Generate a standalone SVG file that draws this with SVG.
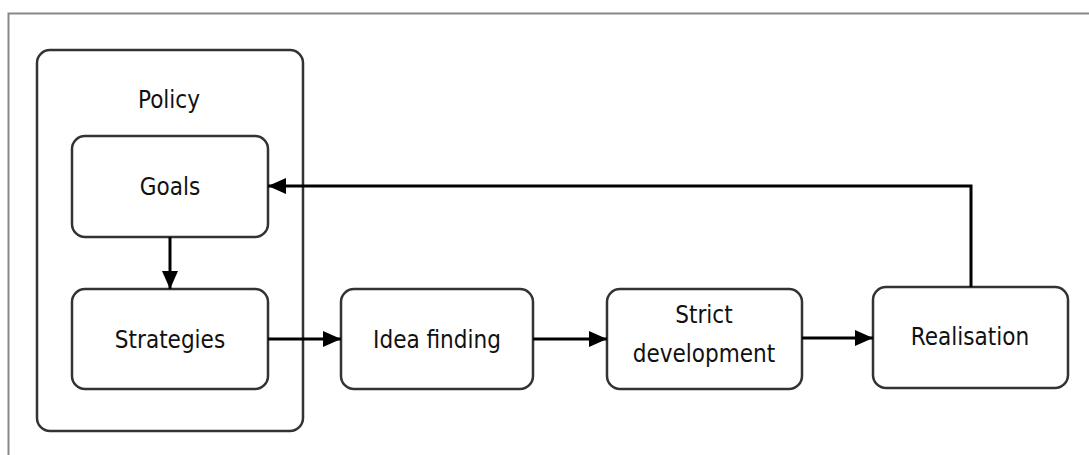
<svg xmlns="http://www.w3.org/2000/svg" width="1089" height="455" viewBox="0 0 1089 455">
<style>
.box{fill:#fff;stroke:#333;stroke-width:2.5}
.lbl{font-family:"DejaVu Sans Condensed","DejaVu Sans",sans-serif;font-size:24px;fill:#111;text-anchor:middle}
.con{fill:none;stroke:#000;stroke-width:3}
</style>
<defs>
<marker id="ah" viewBox="0 0 18 16" refX="18" refY="8" markerWidth="18" markerHeight="16" markerUnits="userSpaceOnUse" orient="auto">
<path d="M0,0 L18,8 L0,16 Z" fill="#000"/>
</marker>
</defs>
<rect x="0" y="0" width="1089" height="455" fill="#fff"/>
<rect x="8.5" y="13.5" width="1200" height="600" fill="none" stroke="#888" stroke-width="2"/>
<g id="policy">
<rect class="box" x="37" y="50" width="266" height="381" rx="13"/>
<text class="lbl" x="169" y="108">Policy</text>
</g>
<g id="goals">
<rect class="box" x="72" y="136" width="196" height="101" rx="13"/>
<text class="lbl" x="170" y="195">Goals</text>
</g>
<g id="strategies">
<rect class="box" x="72" y="289" width="196" height="100" rx="13"/>
<text class="lbl" x="170" y="348">Strategies</text>
</g>
<g id="idea">
<rect class="box" x="341" y="289" width="192" height="100" rx="13"/>
<text class="lbl" x="437" y="348">Idea finding</text>
</g>
<g id="strict">
<rect class="box" x="607" y="289" width="195" height="100" rx="13"/>
<text class="lbl" x="704" y="323">Strict</text>
<text class="lbl" x="704" y="362">development</text>
</g>
<g id="realisation">
<rect class="box" x="873" y="287" width="195" height="101" rx="13"/>
<text class="lbl" x="970" y="345">Realisation</text>
</g>
<g id="connectors">
<path class="con" d="M170,237 L170,289" marker-end="url(#ah)"/>
<path class="con" d="M268,339 L341,339" marker-end="url(#ah)"/>
<path class="con" d="M533,339 L607,339" marker-end="url(#ah)"/>
<path class="con" d="M802,338 L873,338" marker-end="url(#ah)"/>
<path class="con" d="M971,287 L971,186 L268,186" marker-end="url(#ah)"/>
</g>
</svg>
